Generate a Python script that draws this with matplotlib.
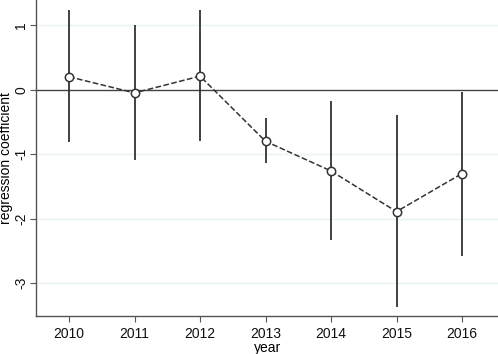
import matplotlib.pyplot as plt

plt.rcParams['font.family'] = ['Liberation Sans', 'DejaVu Sans']

years = [2010, 2011, 2012, 2013, 2014, 2015, 2016]
coef = [0.20, -0.05, 0.21, -0.80, -1.26, -1.89, -1.30]
ci_low = [-0.81, -1.09, -0.80, -1.13, -2.33, -3.37, -2.58]
ci_high = [1.23, 1.00, 1.23, -0.44, -0.18, -0.40, -0.03]

fig = plt.figure(figsize=(4.98, 3.54), dpi=100)
ax = fig.add_axes([0.073, 0.107, 0.927, 0.893])

# light horizontal grid
for yv in [1, -1, -2, -3]:
    ax.axhline(yv, color='#eaf3f4', linewidth=1.0, zorder=0)
ax.axhline(0, color='#444444', linewidth=1.0, zorder=1)

# confidence intervals
ax.vlines(years, ci_low, ci_high, color='#333333', linewidth=1.3, zorder=2)

# point estimates
ax.plot(years, coef, linestyle='--', color='#333333', linewidth=1.1,
        marker='o', markersize=6, markerfacecolor='white',
        markeredgecolor='#333333', markeredgewidth=1.1, zorder=3)

ax.set_xlim(2009.5, 2016.55)
ax.set_ylim(-3.51, 1.39)
ax.set_xticks(years)
ax.set_yticks([1, 0, -1, -2, -3])
ax.set_yticklabels(['1', '0', '-1', '-2', '-3'], rotation=90, va='center')
ax.tick_params(axis='both', labelsize=10, length=4, color='#555555', labelcolor='#111111')
ax.tick_params(axis='y', pad=2)

for side in ['top', 'right']:
    ax.spines[side].set_visible(False)
for side in ['left', 'bottom']:
    ax.spines[side].set_color('#555555')
    ax.spines[side].set_linewidth(1.0)

ax.set_xlabel('year', fontsize=10, labelpad=0)
ax.set_ylabel('regression coefficient', fontsize=10)
ax.yaxis.set_label_coords(-0.05, 0.5)

fig.savefig('out.png', dpi=100)
